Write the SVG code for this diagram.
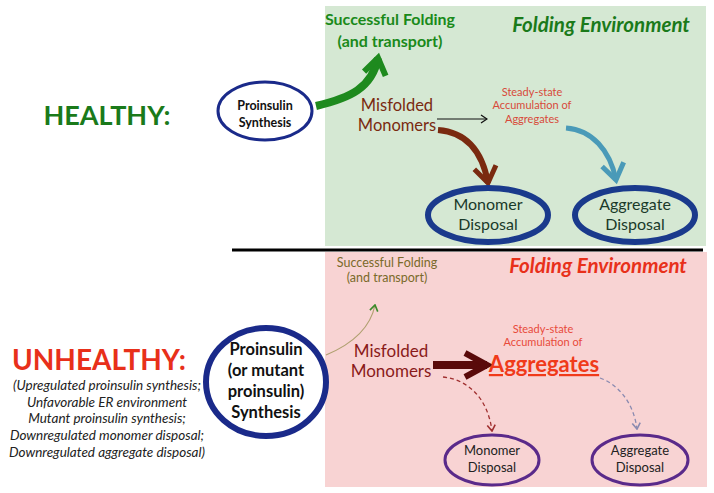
<svg xmlns="http://www.w3.org/2000/svg" width="714" height="493" viewBox="0 0 714 493">
<style>
text{font-family:Lato,"Liberation Sans",sans-serif;text-anchor:middle}
.b{font-weight:bold}
.i{font-style:italic}
</style>
<defs>
<marker id="mg" viewBox="0 0 30 30" refX="22" refY="15" markerWidth="30" markerHeight="30" orient="auto" markerUnits="userSpaceOnUse"><path d="M6,4 L22,15 L6,26" fill="none" stroke="#1e8a1e" stroke-width="6"/></marker>
<marker id="mb" viewBox="0 0 30 30" refX="22" refY="15" markerWidth="30" markerHeight="30" orient="auto" markerUnits="userSpaceOnUse"><path d="M6,4 L22,15 L6,26" fill="none" stroke="#7a2a10" stroke-width="5"/></marker>
<marker id="mc" viewBox="0 0 30 30" refX="22" refY="15" markerWidth="30" markerHeight="30" orient="auto" markerUnits="userSpaceOnUse"><path d="M6,4 L22,15 L6,26" fill="none" stroke="#4a9ab8" stroke-width="5"/></marker>
<marker id="mk" viewBox="0 0 10 10" refX="9" refY="5" markerWidth="10" markerHeight="10" orient="auto" markerUnits="userSpaceOnUse"><path d="M3,1 L9,5 L3,9" fill="none" stroke="#111" stroke-width="1.3"/></marker>
<marker id="mo" viewBox="0 0 10 10" refX="9" refY="5" markerWidth="10" markerHeight="10" orient="auto" markerUnits="userSpaceOnUse"><path d="M3,1 L9,5 L3,9" fill="none" stroke="#3a8a2a" stroke-width="1.6"/></marker>
<marker id="md" viewBox="0 0 30 30" refX="24" refY="15" markerWidth="30" markerHeight="30" orient="auto" markerUnits="userSpaceOnUse"><path d="M2,3 L24,15 L2,27" fill="none" stroke="#5a0a0a" stroke-width="6"/></marker>
<marker id="mr" viewBox="0 0 10 10" refX="9" refY="5" markerWidth="10" markerHeight="10" orient="auto" markerUnits="userSpaceOnUse"><path d="M3,1 L9,5 L3,9" fill="none" stroke="#a03030" stroke-width="1.6"/></marker>
<marker id="mp" viewBox="0 0 10 10" refX="9" refY="5" markerWidth="10" markerHeight="10" orient="auto" markerUnits="userSpaceOnUse"><path d="M3,1 L9,5 L3,9" fill="none" stroke="#8a8ab0" stroke-width="1.6"/></marker>
</defs>
<rect width="714" height="493" fill="#fff"/>
<rect id="healthy-env" x="325" y="6" width="381" height="240" fill="#d5e8d3"/>
<rect id="unhealthy-env" x="325" y="252" width="382" height="235" fill="#f8d3d3"/>
<line x1="232" y1="250" x2="703" y2="250" stroke="#000" stroke-width="3"/>

<g id="labels">
<text x="107" y="125" class="b" font-size="27" fill="#1a7a1a">HEALTHY:</text>
<text x="601" y="32" class="b i" font-size="20.5" fill="#1a7a1a">Folding Environment</text>
<text x="99" y="370" class="b" font-size="28" fill="#e8301a">UNHEALTHY:</text>
<g font-size="13.5" fill="#222">
<text x="107" y="390" class="i">(Upregulated proinsulin synthesis;</text>
<text x="107" y="407" class="i">Unfavorable ER environment</text>
<text x="107" y="423" class="i">Mutant proinsulin synthesis;</text>
<text x="107" y="440" class="i">Downregulated monomer disposal;</text>
<text x="107" y="457" class="i">Downregulated aggregate disposal)</text>
</g>
<text x="598" y="273" class="b i" font-size="20.5" fill="#e8301a">Folding Environment</text>
</g>

<g id="connectors">
<path d="M316,106 C350,98 372,88 378,58" fill="none" stroke="#1e8a1e" stroke-width="8" marker-end="url(#mg)"/>
<path d="M437,119 L487,119" fill="none" stroke="#111" stroke-width="1" marker-end="url(#mk)"/>
<path d="M438,130 C465,132 482,150 488,183" fill="none" stroke="#7a2a10" stroke-width="6" marker-end="url(#mb)"/>
<path d="M566,128 C592,130 610,150 616,180" fill="none" stroke="#4a9ab8" stroke-width="5" marker-end="url(#mc)"/>
<path d="M326,355 C350,345 370,330 375,305" fill="none" stroke="#b0a070" stroke-width="1.2" marker-end="url(#mo)"/>
<path d="M433,365 L487,365" fill="none" stroke="#5a0a0a" stroke-width="8" marker-end="url(#md)"/>
<path d="M443,377 C470,380 488,400 492,431" fill="none" stroke="#a03030" stroke-width="1.3" stroke-dasharray="4,3" marker-end="url(#mr)"/>
<path d="M600,378 C620,385 634,405 637,429" fill="none" stroke="#8a8ab0" stroke-width="1.3" stroke-dasharray="4,3" marker-end="url(#mp)"/>
</g>

<g id="h-synthesis">
<ellipse cx="265" cy="111" rx="47" ry="29" fill="#fff" stroke="#1a2a8a" stroke-width="3"/>
<text x="265" y="110" class="b" font-size="12.5" fill="#111">Proinsulin</text>
<text x="265" y="127" class="b" font-size="12.5" fill="#111">Synthesis</text>
</g>
<g id="h-success">
<text x="390" y="25" class="b" font-size="16" fill="#1a8a1a">Successful Folding</text>
<text x="390" y="47" class="b" font-size="16" fill="#1a8a1a">(and transport)</text>
</g>
<g id="h-misfolded">
<text x="397" y="111" font-size="16.5" fill="#7a2a10">Misfolded</text>
<text x="397" y="131" font-size="16.5" fill="#7a2a10">Monomers</text>
</g>
<g id="h-aggregates">
<text x="532" y="96" font-size="11" fill="#d84a3a">Steady-state</text>
<text x="532" y="109" font-size="11" fill="#d84a3a">Accumulation of</text>
<text x="532" y="123" font-size="11" fill="#d84a3a">Aggregates</text>
</g>
<g id="h-monomer-disposal">
<ellipse cx="488" cy="215" rx="60" ry="27" fill="none" stroke="#1a3a8c" stroke-width="6"/>
<text x="488" y="210" font-size="16" fill="#1a3a2a">Monomer</text>
<text x="488" y="230" font-size="16" fill="#1a3a2a">Disposal</text>
</g>
<g id="h-aggregate-disposal">
<ellipse cx="635" cy="215" rx="60" ry="27" fill="none" stroke="#1a3a8c" stroke-width="6"/>
<text x="635" y="210" font-size="16" fill="#1a3a2a">Aggregate</text>
<text x="635" y="230" font-size="16" fill="#1a3a2a">Disposal</text>
</g>

<g id="u-synthesis">
<ellipse cx="266" cy="382" rx="60" ry="54" fill="#fff" stroke="#1a2a8a" stroke-width="6"/>
<text x="266" y="355" class="b" font-size="16.5" fill="#111">Proinsulin</text>
<text x="266" y="376" class="b" font-size="16.5" fill="#111">(or mutant</text>
<text x="266" y="397" class="b" font-size="16.5" fill="#111">proinsulin)</text>
<text x="266" y="418" class="b" font-size="16.5" fill="#111">Synthesis</text>
</g>
<g id="u-success">
<text x="387" y="267" font-size="12.5" fill="#7a6a2a">Successful Folding</text>
<text x="387" y="282" font-size="12.5" fill="#7a6a2a">(and transport)</text>
</g>
<g id="u-misfolded">
<text x="391" y="357" font-size="17" fill="#8a1a1a">Misfolded</text>
<text x="391" y="377" font-size="17" fill="#8a1a1a">Monomers</text>
</g>
<g id="u-aggregates">
<text x="543" y="333" font-size="11" fill="#e84a3a">Steady-state</text>
<text x="543" y="346" font-size="11" fill="#e84a3a">Accumulation of</text>
<text x="544" y="372" class="b" font-size="22" fill="#f03a1a" text-decoration="underline">Aggregates</text>
</g>
<g id="u-monomer-disposal">
<ellipse cx="492" cy="460" rx="47" ry="25" fill="none" stroke="#5a2a8a" stroke-width="3"/>
<text x="492" y="455" font-size="13" fill="#222">Monomer</text>
<text x="492" y="472" font-size="13" fill="#222">Disposal</text>
</g>
<g id="u-aggregate-disposal">
<ellipse cx="640" cy="460" rx="48" ry="25" fill="none" stroke="#5a2a8a" stroke-width="3"/>
<text x="640" y="455" font-size="13" fill="#222">Aggregate</text>
<text x="640" y="472" font-size="13" fill="#222">Disposal</text>
</g>
</svg>
